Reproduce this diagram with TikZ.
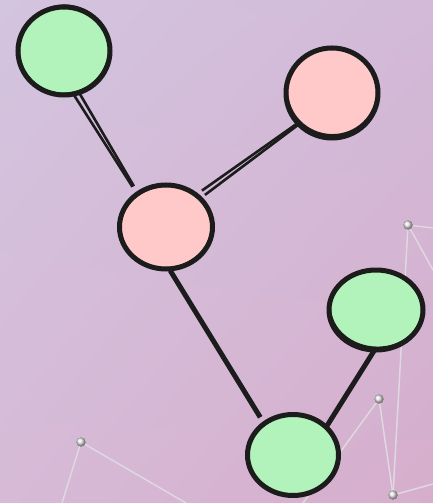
\documentclass[tikz,border=0pt]{standalone}
\usetikzlibrary{shapes.geometric,shadings}
\definecolor{bgTL}{RGB}{211,196,223}
\definecolor{bgTR}{RGB}{210,186,216}
\definecolor{bgBL}{RGB}{214,186,214}
\definecolor{bgBR}{RGB}{214,174,204}
\definecolor{greenfill}{RGB}{178,242,187}
\definecolor{pinkfill}{RGB}{255,201,201}
\definecolor{ink}{RGB}{28,28,28}
\definecolor{netline}{RGB}{222,216,224}
\definecolor{netdot}{RGB}{232,232,232}
\tikzset{
  vert/.style={ellipse, draw=ink, line width=5pt, inner sep=0pt},
  gvert/.style={vert, fill=greenfill},
  pvert/.style={vert, fill=pinkfill},
  edgeline/.style={draw=ink, line width=5pt},
  thinedge/.style={draw=ink, line width=2.6pt},
  sketch/.style={draw=ink, line width=2pt},
  net/.style={draw=netline, line width=1.5pt},
  netpt/.style={circle, inner sep=0pt, minimum size=9pt, ball color=netdot, draw=none}
}
\begin{document}
\begin{tikzpicture}[x=1pt,y=-1pt]
\useasboundingbox (0,0) rectangle (433,503);
\shade[upper left=bgTL, upper right=bgTR, lower left=bgBL, lower right=bgBR] (0,0) rectangle (433,503);

% background network
\node[netpt] (n1) at (408,225) {};
\node[netpt] (n2) at (379,399) {};
\node[netpt] (n3) at (393,495) {};
\node[netpt] (n4) at (81,442) {};
\coordinate (e1) at (433,228);
\coordinate (e2) at (433,270);
\coordinate (e3) at (433,484);
\coordinate (e4) at (303,503);
\coordinate (e5) at (62,503);
\coordinate (e6) at (186,503);
\draw[net] (n1) -- (e1);
\draw[net] (n1) -- (e2);
\draw[net] (n1) -- (n3);
\draw[net] (n2) -- (n3);
\draw[net] (n2) -- (e4);
\draw[net] (n3) -- (e3);
\draw[net] (n4) -- (e5);
\draw[net] (n4) -- (e6);
\node[netpt] at (408,225) {};
\node[netpt] at (379,399) {};
\node[netpt] at (393,495) {};
\node[netpt] at (81,442) {};

% graph nodes
\node[gvert, minimum width=92pt, minimum height=88pt] (a) at (64,51) {};
\node[pvert, minimum width=92pt, minimum height=90pt] (b) at (332,93) {};
\node[pvert, minimum width=93pt, minimum height=84pt] (c) at (166,227) {};
\node[gvert, minimum width=94pt, minimum height=80pt] (d) at (376,310) {};
\node[gvert, minimum width=91pt, minimum height=81pt] (e) at (293,455) {};

% sketchy double strokes
\draw[sketch] ([yshift=1.5pt]a.center) ellipse [x radius=45, y radius=44, rotate=14];
\draw[sketch] ([yshift=2pt]b.center) ellipse [x radius=45, y radius=44, rotate=-12];
\draw[sketch] (c.center) ellipse [x radius=46, y radius=41, rotate=6];
\draw[sketch] ([yshift=1.5pt]d.center) ellipse [x radius=46, y radius=39, rotate=-6];
\draw[sketch] (e.center) ellipse [x radius=45, y radius=40, rotate=8];

% connectors
\draw[thinedge, shorten <=-3pt, shorten >=6pt] ([xshift=-2.4pt,yshift=-1.4pt]a.-73) -- ([xshift=-0.6pt,yshift=-0.3pt]c.130);
\draw[thinedge, shorten <=-3pt, shorten >=6pt] ([xshift=2.4pt,yshift=1.4pt]a.-73) -- ([xshift=0.6pt,yshift=0.3pt]c.130);
\draw[thinedge, shorten <=-3pt, shorten >=4pt] ([xshift=-0.5pt,yshift=0.7pt]b.222) -- ([xshift=-1.5pt,yshift=2.2pt]c.43);
\draw[thinedge, shorten <=-3pt, shorten >=4pt] ([xshift=0.5pt,yshift=-0.7pt]b.222) -- ([xshift=1.5pt,yshift=-2.2pt]c.43);
\draw[edgeline, shorten <=-1pt, shorten >=5pt] (c.-84) -- (e.132);
\draw[edgeline, shorten <=-3pt, shorten >=-2pt] (d.-94) -- (e.41);
\end{tikzpicture}
\end{document}
